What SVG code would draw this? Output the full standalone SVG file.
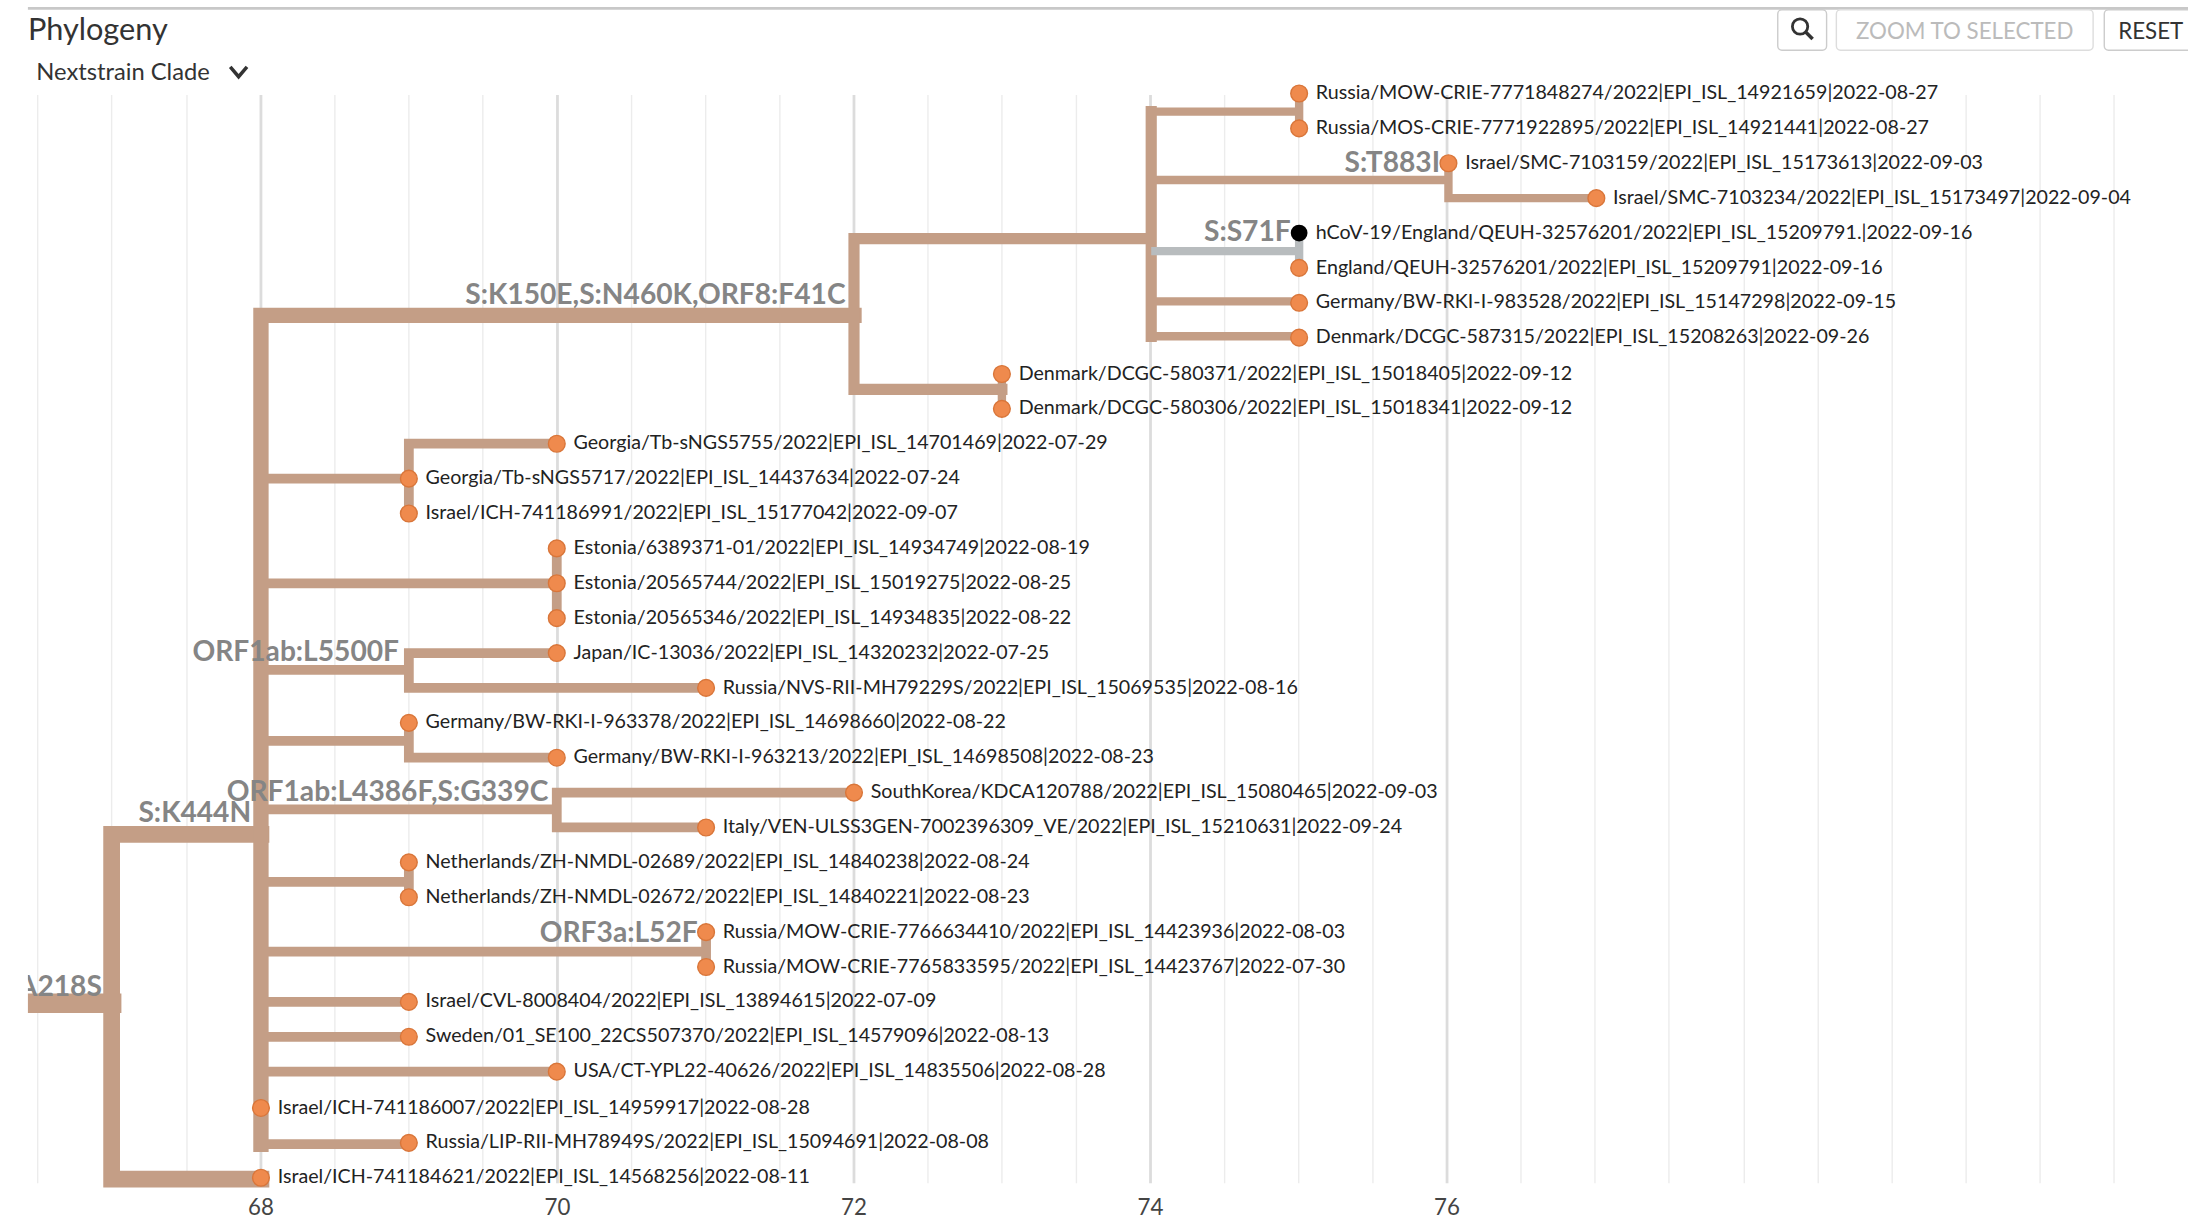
<svg xmlns="http://www.w3.org/2000/svg" width="2188" height="1232" viewBox="0 0 2188 1232">
<style>
.g{stroke:#ececec;stroke-width:1}
.G{stroke:#dcdcdc;stroke-width:2}
.b{stroke:#c49e86;fill:none;stroke-linecap:square}
.t{fill:#ef8a4d;stroke:#d9763a;stroke-width:1}
.l{font-family:Lato,"Liberation Sans",sans-serif;font-size:14.1px;fill:#222}
.m{font-family:Lato,"Liberation Sans",sans-serif;font-size:20.2px;font-weight:bold;fill:#858585;text-anchor:end}
.ax{font-family:Lato,"Liberation Sans",sans-serif;font-size:16px;fill:#444;text-anchor:middle}
.btn{font-family:Lato,"Liberation Sans",sans-serif;font-size:16px}
</style>
<defs><clipPath id="c"><rect x="20" y="0" width="1548" height="883"/></clipPath></defs>
<rect width="2188" height="1232" fill="#fff"/>
<g transform="scale(1.39541)">
<g id="header">
<line x1="20" y1="6" x2="1568" y2="6" stroke="#c8c8c8" stroke-width="2"/>
<text x="20" y="29" font-family="Lato,'Liberation Sans',sans-serif" font-size="22" fill="#333">Phylogeny</text>
<text x="26" y="57" font-family="Lato,'Liberation Sans',sans-serif" font-size="17" fill="#333">Nextstrain Clade</text>
<path d="M165 48 L171 55 L177 48" fill="none" stroke="#333" stroke-width="2.5"/>
<rect x="1274" y="7" width="35" height="29" rx="3" fill="#fff" stroke="#ccc"/>
<circle cx="1290" cy="19" r="5.5" fill="none" stroke="#333" stroke-width="2"/>
<line x1="1294" y1="23" x2="1299" y2="28" stroke="#333" stroke-width="2.5"/>
<rect x="1316" y="7" width="184" height="29" rx="3" fill="#fff" stroke="#ddd"/>
<text x="1408" y="28" class="btn" fill="#bbb" text-anchor="middle">ZOOM TO SELECTED</text>
<rect x="1508" y="7" width="70" height="29" rx="3" fill="#fff" stroke="#ccc"/>
<text x="1518" y="28" class="btn" fill="#333">RESET</text>
</g>
<g id="grid">
<line class="g" x1="27" y1="68" x2="27" y2="848"/><line class="g" x1="80" y1="68" x2="80" y2="848"/><line class="g" x1="134" y1="68" x2="134" y2="848"/>
<line class="G" x1="187" y1="68" x2="187" y2="848"/>
<line class="g" x1="240" y1="68" x2="240" y2="848"/><line class="g" x1="293" y1="68" x2="293" y2="848"/><line class="g" x1="346" y1="68" x2="346" y2="848"/>
<line class="G" x1="399.5" y1="68" x2="399.5" y2="848"/>
<line class="g" x1="452.6" y1="68" x2="452.6" y2="848"/><line class="g" x1="505.7" y1="68" x2="505.7" y2="848"/><line class="g" x1="558.9" y1="68" x2="558.9" y2="848"/>
<line class="G" x1="612" y1="68" x2="612" y2="848"/>
<line class="g" x1="665" y1="68" x2="665" y2="848"/><line class="g" x1="718" y1="68" x2="718" y2="848"/><line class="g" x1="771.4" y1="68" x2="771.4" y2="848"/>
<line class="G" x1="824.5" y1="68" x2="824.5" y2="848"/>
<line class="g" x1="877.6" y1="68" x2="877.6" y2="848"/><line class="g" x1="930.7" y1="68" x2="930.7" y2="848"/><line class="g" x1="983.9" y1="68" x2="983.9" y2="848"/>
<line class="G" x1="1037" y1="68" x2="1037" y2="848"/>
<line class="g" x1="1090" y1="68" x2="1090" y2="848"/><line class="g" x1="1143" y1="68" x2="1143" y2="848"/><line class="g" x1="1196" y1="68" x2="1196" y2="848"/>
<line class="g" x1="1250" y1="68" x2="1250" y2="848"/><line class="g" x1="1303" y1="68" x2="1303" y2="848"/><line class="g" x1="1356" y1="68" x2="1356" y2="848"/><line class="g" x1="1409" y1="68" x2="1409" y2="848"/><line class="g" x1="1462" y1="68" x2="1462" y2="848"/><line class="g" x1="1515" y1="68" x2="1515" y2="848"/>
<text class="ax" x="187" y="871">68</text><text class="ax" x="399.5" y="871">70</text><text class="ax" x="612" y="871">72</text><text class="ax" x="824.5" y="871">74</text><text class="ax" x="1037" y="871">76</text>
</g>
<g id="connectors" clip-path="url(#c)">
<path class="b" stroke-width="14" d="M10 719 H80"/>
<path class="b" stroke-width="12" d="M80 598 V845 M80 598 H187 M80 845 H187"/>
<path class="b" stroke-width="11" d="M187 226 V820 M187 226 H612"/>
<path class="b" stroke-width="8" d="M612 171 V279 M612 171 H825 M612 279 H718 M825 80 V241"/>
<path class="b" stroke-width="6" d="M718 267 V292 M825 80 H931 M931 66 V91 M825 129 H1038 M1038 116 V142 M1038 142 H1144 M825 216 H931 M825 241 H931"/>
<path stroke="#b8bcbe" stroke-width="6" fill="none" d="M825 180 H931 M931 167 V192"/>
<path class="b" stroke-width="7" d="M187 343 H293 M293 318 V368 M293 318 H399 M187 418 H399 M399 393 V443 M187 480 H293 M293 468 V493 M293 468 H399 M293 493 H506 M187 531 H293 M293 518 V543 M293 543 H399 M187 580 H399 M399 568 V593 M399 568 H612 M399 593 H506 M187 632 H293 M293 618 V643 M187 682 H506 M506 668 V693 M187 718 H293 M187 743 H293 M187 768 H399 M187 820 H293"/>
</g>
<g id="mutations" clip-path="url(#c)">
<text class="m" x="73" y="714">A218S</text>
<text class="m" x="180" y="589">S:K444N</text>
<text class="m" x="393" y="574">ORF1ab:L4386F,S:G339C</text>
<text class="m" x="286" y="474">ORF1ab:L5500F</text>
<text class="m" x="500" y="675">ORF3a:L52F</text>
<text class="m" x="606" y="218">S:K150E,S:N460K,ORF8:F41C</text>
<text class="m" x="1032" y="123">S:T883I</text>
<text class="m" x="925" y="173">S:S71F</text>
</g>
<g id="tips">
<g id="n1"><circle class="t" cx="931" cy="67" r="6"/><text class="l" x="943" y="71">Russia/MOW-CRIE-7771848274/2022|EPI_ISL_14921659|2022-08-27</text></g>
<g id="n2"><circle class="t" cx="931" cy="92" r="6"/><text class="l" x="943" y="96">Russia/MOS-CRIE-7771922895/2022|EPI_ISL_14921441|2022-08-27</text></g>
<g id="n3"><circle class="t" cx="1038" cy="117" r="6"/><text class="l" x="1050" y="121">Israel/SMC-7103159/2022|EPI_ISL_15173613|2022-09-03</text></g>
<g id="n4"><circle class="t" cx="1144" cy="142" r="6"/><text class="l" x="1156" y="146">Israel/SMC-7103234/2022|EPI_ISL_15173497|2022-09-04</text></g>
<g id="n5"><circle cx="931" cy="167" r="6" fill="#000"/><text class="l" x="943" y="171">hCoV-19/England/QEUH-32576201/2022|EPI_ISL_15209791.|2022-09-16</text></g>
<g id="n6"><circle class="t" cx="931" cy="192" r="6"/><text class="l" x="943" y="196">England/QEUH-32576201/2022|EPI_ISL_15209791|2022-09-16</text></g>
<g id="n7"><circle class="t" cx="931" cy="217" r="6"/><text class="l" x="943" y="221">Germany/BW-RKI-I-983528/2022|EPI_ISL_15147298|2022-09-15</text></g>
<g id="n8"><circle class="t" cx="931" cy="242" r="6"/><text class="l" x="943" y="246">Denmark/DCGC-587315/2022|EPI_ISL_15208263|2022-09-26</text></g>
<g id="n9"><circle class="t" cx="718" cy="268" r="6"/><text class="l" x="730" y="272">Denmark/DCGC-580371/2022|EPI_ISL_15018405|2022-09-12</text></g>
<g id="n10"><circle class="t" cx="718" cy="293" r="6"/><text class="l" x="730" y="297">Denmark/DCGC-580306/2022|EPI_ISL_15018341|2022-09-12</text></g>
<g id="n11"><circle class="t" cx="399" cy="318" r="6"/><text class="l" x="411" y="322">Georgia/Tb-sNGS5755/2022|EPI_ISL_14701469|2022-07-29</text></g>
<g id="n12"><circle class="t" cx="293" cy="343" r="6"/><text class="l" x="305" y="347">Georgia/Tb-sNGS5717/2022|EPI_ISL_14437634|2022-07-24</text></g>
<g id="n13"><circle class="t" cx="293" cy="368" r="6"/><text class="l" x="305" y="372">Israel/ICH-741186991/2022|EPI_ISL_15177042|2022-09-07</text></g>
<g id="n14"><circle class="t" cx="399" cy="393" r="6"/><text class="l" x="411" y="397">Estonia/6389371-01/2022|EPI_ISL_14934749|2022-08-19</text></g>
<g id="n15"><circle class="t" cx="399" cy="418" r="6"/><text class="l" x="411" y="422">Estonia/20565744/2022|EPI_ISL_15019275|2022-08-25</text></g>
<g id="n16"><circle class="t" cx="399" cy="443" r="6"/><text class="l" x="411" y="447">Estonia/20565346/2022|EPI_ISL_14934835|2022-08-22</text></g>
<g id="n17"><circle class="t" cx="399" cy="468" r="6"/><text class="l" x="411" y="472">Japan/IC-13036/2022|EPI_ISL_14320232|2022-07-25</text></g>
<g id="n18"><circle class="t" cx="506" cy="493" r="6"/><text class="l" x="518" y="497">Russia/NVS-RII-MH79229S/2022|EPI_ISL_15069535|2022-08-16</text></g>
<g id="n19"><circle class="t" cx="293" cy="518" r="6"/><text class="l" x="305" y="522">Germany/BW-RKI-I-963378/2022|EPI_ISL_14698660|2022-08-22</text></g>
<g id="n20"><circle class="t" cx="399" cy="543" r="6"/><text class="l" x="411" y="547">Germany/BW-RKI-I-963213/2022|EPI_ISL_14698508|2022-08-23</text></g>
<g id="n21"><circle class="t" cx="612" cy="568" r="6"/><text class="l" x="624" y="572">SouthKorea/KDCA120788/2022|EPI_ISL_15080465|2022-09-03</text></g>
<g id="n22"><circle class="t" cx="506" cy="593" r="6"/><text class="l" x="518" y="597">Italy/VEN-ULSS3GEN-7002396309_VE/2022|EPI_ISL_15210631|2022-09-24</text></g>
<g id="n23"><circle class="t" cx="293" cy="618" r="6"/><text class="l" x="305" y="622">Netherlands/ZH-NMDL-02689/2022|EPI_ISL_14840238|2022-08-24</text></g>
<g id="n24"><circle class="t" cx="293" cy="643" r="6"/><text class="l" x="305" y="647">Netherlands/ZH-NMDL-02672/2022|EPI_ISL_14840221|2022-08-23</text></g>
<g id="n25"><circle class="t" cx="506" cy="668" r="6"/><text class="l" x="518" y="672">Russia/MOW-CRIE-7766634410/2022|EPI_ISL_14423936|2022-08-03</text></g>
<g id="n26"><circle class="t" cx="506" cy="693" r="6"/><text class="l" x="518" y="697">Russia/MOW-CRIE-7765833595/2022|EPI_ISL_14423767|2022-07-30</text></g>
<g id="n27"><circle class="t" cx="293" cy="718" r="6"/><text class="l" x="305" y="722">Israel/CVL-8008404/2022|EPI_ISL_13894615|2022-07-09</text></g>
<g id="n28"><circle class="t" cx="293" cy="743" r="6"/><text class="l" x="305" y="747">Sweden/01_SE100_22CS507370/2022|EPI_ISL_14579096|2022-08-13</text></g>
<g id="n29"><circle class="t" cx="399" cy="768" r="6"/><text class="l" x="411" y="772">USA/CT-YPL22-40626/2022|EPI_ISL_14835506|2022-08-28</text></g>
<g id="n30"><circle class="t" cx="187" cy="794" r="6"/><text class="l" x="199" y="798">Israel/ICH-741186007/2022|EPI_ISL_14959917|2022-08-28</text></g>
<g id="n31"><circle class="t" cx="293" cy="819" r="6"/><text class="l" x="305" y="823">Russia/LIP-RII-MH78949S/2022|EPI_ISL_15094691|2022-08-08</text></g>
<g id="n32"><circle class="t" cx="187" cy="844" r="6"/><text class="l" x="199" y="848">Israel/ICH-741184621/2022|EPI_ISL_14568256|2022-08-11</text></g>
</g>
</g>
</svg>
